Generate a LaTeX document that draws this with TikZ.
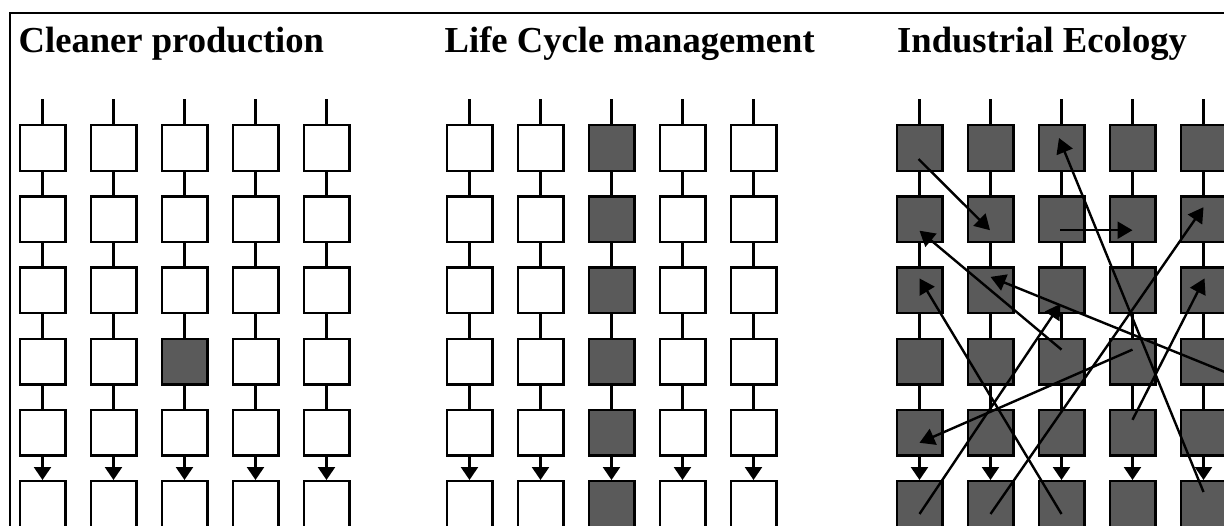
\documentclass[tikz,border=0pt]{standalone}
\usepackage{fontspec}
\setmainfont{Liberation Serif}
\usetikzlibrary{arrows.meta,calc}
\definecolor{unitdark}{RGB}{90,90,90}

\begin{document}
\begin{tikzpicture}[x=1pt,y=-1pt,
  unit/.style={draw=black, line width=2.4pt, fill=white, minimum size=45.6pt, inner sep=0pt},
  darkunit/.style={unit, fill=unitdark},
  link/.style={draw=black, line width=2.4pt},
  linkarrow/.style={link, -{Triangle[length=13pt,width=17pt]}},
  flow/.style={draw=black, line width=2.4pt, -{Triangle[length=15pt,width=17pt]}},
  frame/.style={draw=black, line width=2.8pt},
  title/.style={anchor=base west, inner sep=0pt, font=\fontsize{36.6}{40}\selectfont\bfseries}]

\useasboundingbox (0,0) rectangle (1224,525);
\clip (0,0) rectangle (1224,525);

% outer frame (top and left edges)
\coordinate (fr-tr) at (1240,13);
\coordinate (fr-tl) at (10,13);
\coordinate (fr-bl) at (10,545);
\draw[frame] (fr-tr) -- (fr-tl) -- (fr-bl);

% headings
\node[title] (tA) at (18.5,52) {Cleaner production};
\node[title] (tB) at (444.5,52) {Life Cycle management};
\node[title] (tC) at (897,52) {Industrial Ecology};

% Cleaner production: a single improved unit
\foreach \c in {1,...,5} {
  \coordinate (A-top-\c) at ({42.5+71*(\c-1)},99);
  \foreach \r in {1,...,6} {
    \ifnum\c=3 \ifnum\r=4 \def\st{darkunit}\else\def\st{unit}\fi\else\def\st{unit}\fi
    \node[\st] (A-\r-\c) at ({42.5+71*(\c-1)},{148+71.2*(\r-1)}) {};
  }
}

% Life Cycle management: one whole chain
\foreach \c in {1,...,5} {
  \coordinate (B-top-\c) at ({469.5+71*(\c-1)},99);
  \foreach \r in {1,...,6} {
    \ifnum\c=3 \def\st{darkunit}\else\def\st{unit}\fi
    \node[\st] (B-\r-\c) at ({469.5+71*(\c-1)},{148+71.2*(\r-1)}) {};
  }
}

% Industrial Ecology: every unit
\foreach \c in {1,...,5} {
  \coordinate (C-top-\c) at ({919.5+71*(\c-1)},99);
  \foreach \r in {1,...,6} {
    \node[darkunit] (C-\r-\c) at ({919.5+71*(\c-1)},{148+71.2*(\r-1)}) {};
  }
}

% vertical chains
\foreach \g in {A,B,C} {
  \foreach \c in {1,...,5} {
    \draw[link] (\g-top-\c) -- (\g-1-\c);
    \foreach \r/\s in {1/2,2/3,3/4,4/5}
      \draw[link] (\g-\r-\c) -- (\g-\s-\c);
    \draw[linkarrow] (\g-5-\c) -- (\g-6-\c);
  }
}

% cross-chain exchanges
\coordinate (C-exit) at (1250,382.2);
\draw[flow] ($(C-1-1)+(-1,11)$) -- ($(C-2-2)+(-0.5,11)$);
\draw[flow] ($(C-6-5)+(0,-12)$) -- ($(C-1-3)+(-2.5,-10)$);
\draw[flow] ($(C-2-3)+(-1.5,11)$) -- ($(C-2-4)+(0,11)$);
\draw[flow] ($(C-4-3)+(0,-12)$) -- ($(C-2-1)+(0,11.5)$);
\draw[flow] (C-exit) -- ($(C-3-2)+(0,-13.5)$);
\draw[flow] ($(C-6-3)+(0,10)$) -- ($(C-3-1)+(0,-12)$);
\draw[flow] ($(C-6-1)+(0,10)$) -- ($(C-3-3)+(-1,13.5)$);
\draw[flow] ($(C-6-2)+(0,10)$) -- ($(C-2-5)+(0,-12)$);
\draw[flow] ($(C-5-4)+(0,-13)$) -- ($(C-3-5)+(1,-12)$);
\draw[flow] ($(C-4-4)+(0,-12)$) -- ($(C-5-1)+(0,10)$);

\end{tikzpicture}
\end{document}
